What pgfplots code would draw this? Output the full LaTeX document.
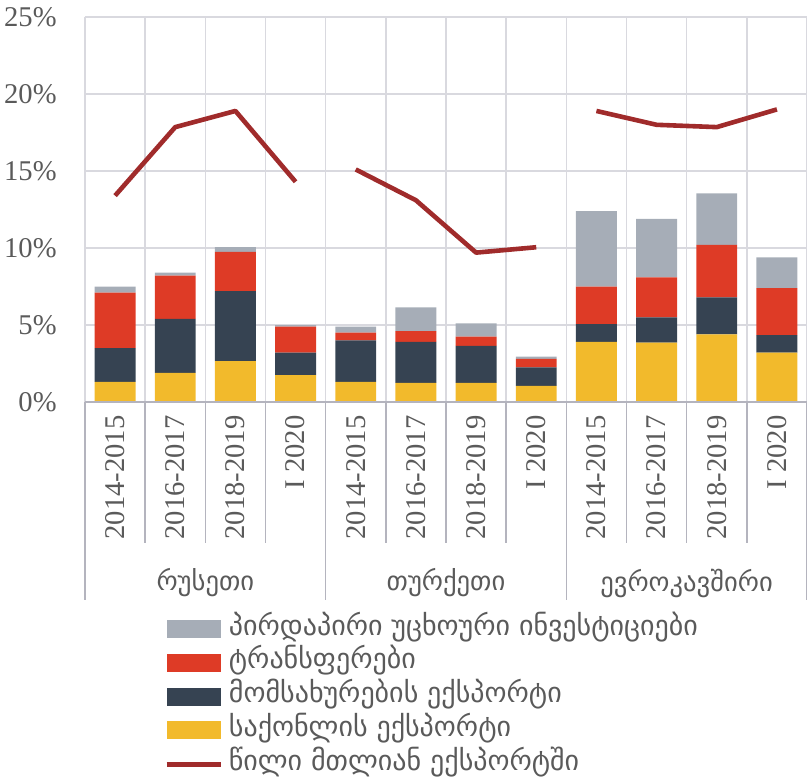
\documentclass[border=0pt]{standalone}
\usepackage{fontspec}
\setmainfont{Liberation Serif}
\newfontfamily\geo{DejaVu Sans}
\usepackage{pgfplots}
\pgfplotsset{compat=1.18}

\definecolor{cFDI}{HTML}{A6ADB7}
\definecolor{cTr}{HTML}{DE3B26}
\definecolor{cSv}{HTML}{364352}
\definecolor{cGd}{HTML}{F2BA2C}
\definecolor{cLn}{HTML}{A02B2B}
\definecolor{cGrid}{HTML}{D9D9DF}
\definecolor{cSep}{HTML}{B4B4BE}
\definecolor{cTxt}{HTML}{5A5A5A}

\pgfplotsset{
  base/.style={width=361pt,height=192.5pt,scale only axis,
    xmin=0.5,xmax=12.5,ymin=0,ymax=25,enlargelimits=false},
  patchleg/.style={legend image code/.code={\fill[##1] (0pt,-4.5pt) rectangle (27pt,4.5pt);}},
  lineleg/.style={legend image code/.code={\draw[##1] (0pt,0pt) -- (27pt,0pt);}},
}

\begin{document}
\begin{tikzpicture}
\begin{axis}[base, ybar stacked, bar width=0.68,
  axis line style={draw=none},
  xtick={1,...,12}, minor xtick={0.5,1.5,...,12.5},
  xminorgrids, ymajorgrids, ytick={0,5,...,25},
  major tick length=0pt, minor tick length=0pt,
  grid style={cGrid,line width=0.75pt}, minor grid style={cGrid,line width=0.75pt},
  yticklabels={0\%,5\%,10\%,15\%,20\%,25\%},
  xticklabels={2014-2015,2016-2017,2018-2019,I 2020,2014-2015,2016-2017,2018-2019,I 2020,2014-2015,2016-2017,2018-2019,I 2020},
  ticklabel style={font=\fontsize{14.3}{16}\selectfont,text=cTxt},
  yticklabel style={anchor=east,inner sep=0pt}, yticklabel shift=14pt,
  xticklabel style={rotate=90,anchor=east,inner sep=0pt}, xticklabel shift=6.5pt,
  reverse legend,
  legend cell align=left,
  legend style={draw=none,fill=none,at={(axis description cs:0.101,-0.547)},anchor=north west,
    font=\geo\fontsize{14}{16}\selectfont,text=cTxt,row sep=4.9pt,
    nodes={inner sep=0pt,text height=9pt,text depth=3pt},
    /tikz/every odd column/.append style={column sep=3pt}},
]
\addlegendimage{lineleg,cLn,line width=2.3pt}
\addlegendentry{წილი მთლიან ექსპორტში}
% goods export
\addplot[fill=cGd,draw=none,patchleg] coordinates {(1,1.3) (2,1.9) (3,2.65) (4,1.75) (5,1.3) (6,1.25) (7,1.25) (8,1.05) (9,3.9) (10,3.85) (11,4.4) (12,3.2)};
\addlegendentry{საქონლის ექსპორტი}
% services export
\addplot[fill=cSv,draw=none,patchleg] coordinates {(1,2.2) (2,3.5) (3,4.55) (4,1.45) (5,2.7) (6,2.65) (7,2.4) (8,1.2) (9,1.15) (10,1.65) (11,2.4) (12,1.15)};
\addlegendentry{მომსახურების ექსპორტი}
% transfers
\addplot[fill=cTr,draw=none,patchleg] coordinates {(1,3.6) (2,2.8) (3,2.55) (4,1.7) (5,0.5) (6,0.7) (7,0.6) (8,0.55) (9,2.45) (10,2.6) (11,3.4) (12,3.05)};
\addlegendentry{ტრანსფერები}
% FDI
\addplot[fill=cFDI,draw=none,patchleg] coordinates {(1,0.4) (2,0.2) (3,0.3) (4,0.1) (5,0.4) (6,1.55) (7,0.85) (8,0.15) (9,4.9) (10,3.8) (11,3.35) (12,2.0)};
\addlegendentry{პირდაპირი უცხოური ინვესტიციები}
\end{axis}
\begin{axis}[base, hide axis, unbounded coords=jump]
\addplot[cLn,line width=2.3pt,line join=round] coordinates {(1,13.4) (2,17.85) (3,18.9) (4,14.3) (4.5,nan) (5,15.1) (6,13.1) (7,9.7) (8,10.05) (8.5,nan) (9,18.9) (10,18.0) (11,17.85) (12,19.0)};
\end{axis}
% axis line and category separators below the axis
\draw[cSep,line width=0.9pt] (0,0) -- (361pt,0);
\foreach \i in {1,2,3,5,6,7,9,10,11}
  \draw[cSep,line width=0.75pt] (\i*30.0833pt,0) -- ++(0,-70.5pt);
\foreach \i in {0,4,8,12}
  \draw[cSep,line width=0.75pt] (\i*30.0833pt,0) -- ++(0,-99pt);
\begin{scope}[every node/.style={font=\geo\fontsize{13.3}{15}\selectfont,text=cTxt}]
\node at (60.17pt,-90.5pt) {რუსეთი};
\node at (180.5pt,-90.5pt) {თურქეთი};
\node at (300.8pt,-90.5pt) {ევროკავშირი};
\end{scope}
\pgfresetboundingbox
\path[use as bounding box] (-42.5pt,-190.5pt) rectangle (361pt,201pt);
\end{tikzpicture}
\end{document}
